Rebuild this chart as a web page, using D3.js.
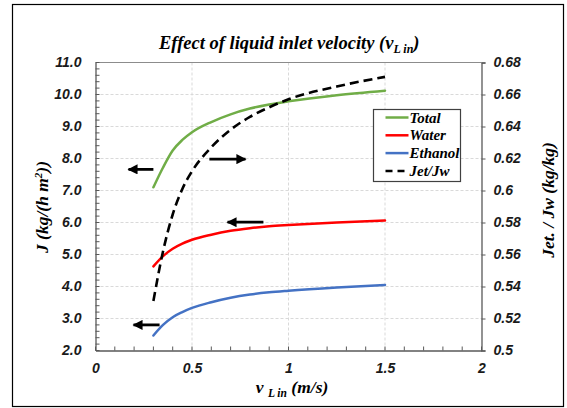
<!DOCTYPE html>
<html>
<head>
<meta charset="utf-8">
<script src="https://cdn.jsdelivr.net/npm/d3@7/dist/d3.min.js"></script>
<style>
  html, body { margin: 0; padding: 0; background: #fff; }
  svg { display: block; }
  .serif { font-family: "Liberation Serif", "Times New Roman", serif; font-weight: bold; font-style: italic; }
  .sans { font-family: "Liberation Sans", Arial, sans-serif; font-weight: bold; font-style: italic; }
</style>
</head>
<body>
<svg id="chart" width="567" height="408"></svg>
<script>
// Liquid inlet velocity (m/s)
const velocity = [0.3, 0.35, 0.4, 0.45, 0.5, 0.6, 0.7, 0.8, 0.9, 1.0, 1.25, 1.5];
// Fluxes J, kg/(h m²) — left axis
const totalFlux   = [7.10, 7.72, 8.25, 8.58, 8.82, 9.14, 9.38, 9.56, 9.69, 9.79, 9.98, 10.12];
const waterFlux   = [4.63, 4.95, 5.18, 5.34, 5.46, 5.62, 5.74, 5.82, 5.88, 5.92, 6.00, 6.06];
const ethanolFlux = [2.47, 2.80, 3.04, 3.20, 3.33, 3.51, 3.65, 3.75, 3.82, 3.87, 3.97, 4.05];
// Jet/Jw ratio, kg/kg — right axis
const ratio       = [0.531, 0.562, 0.585, 0.601, 0.612, 0.627, 0.638, 0.646, 0.652, 0.657, 0.665, 0.671];

const xTicks = [0, 0.5, 1, 1.5, 2];
const xTickLabels = ["0", "0.5", "1", "1.5", "2"];
const yLeftTicks = [2, 3, 4, 5, 6, 7, 8, 9, 10, 11];
const yRightTicks = [0.5, 0.52, 0.54, 0.56, 0.58, 0.6, 0.62, 0.64, 0.66, 0.68];

const seriesNames = ["Total", "Water", "Ethanol", "Jet/Jw"];
const seriesColors = ["#70ad47", "#ff0000", "#4472c4", "#000000"];

// Arrows pointing each curve to its axis: [x from, x to, y] in data units of the given axis
const arrowFrom = [0.30, 0.59, 0.87, 0.332];
const arrowTo   = [0.171, 0.777, 0.684, 0.197];
const arrowY    = [7.66, 0.6196, 6.01, 2.80];
const arrowAxis = ["left", "right", "left", "left"];

const svg = d3.select("#chart");

// outer frame
svg.append("rect").attr("x", 12.5).attr("y", 4.5).attr("width", 551).attr("height", 402)
  .attr("fill", "#fff").attr("stroke", "#000").attr("stroke-width", 1.2);

const x = d3.scaleLinear().domain([0, 2]).range([95.5, 481.5]);
const yL = d3.scaleLinear().domain([2, 11]).range([350.5, 62.5]);
const yR = d3.scaleLinear().domain([0.5, 0.68]).range([350.5, 62.5]);

// gridlines
const grid = svg.append("g").attr("stroke", "#d9d9d9").attr("stroke-width", 1).attr("stroke-dasharray", "3,2");
grid.selectAll(".gh").data(yLeftTicks.slice(1, -1)).join("line")
  .attr("x1", x(0)).attr("x2", x(2)).attr("y1", d => yL(d)).attr("y2", d => yL(d));
grid.selectAll(".gv").data(xTicks.slice(1, -1)).join("line")
  .attr("y1", yL(2)).attr("y2", yL(11)).attr("x1", d => x(d)).attr("x2", d => x(d));

const axisColor = "#595959";

// top border of plot area
svg.append("line").attr("x1", x(0)).attr("x2", x(2)).attr("y1", yL(11)).attr("y2", yL(11))
  .attr("stroke", "#8c8c8c").attr("stroke-width", 1);

// left axis with inward ticks, minor every 0.2
const gL = svg.append("g").attr("transform", `translate(${x(0)},0)`);
gL.call(d3.axisLeft(yL).tickValues(yLeftTicks).tickSize(0).tickFormat(d3.format(".1f")).tickPadding(14));
gL.selectAll(".minor").data(d3.range(2, 11.001, 0.2)).join("line").attr("class", "minor")
  .attr("x1", 0).attr("x2", 4).attr("y1", d => yL(d)).attr("y2", d => yL(d))
  .attr("stroke", axisColor);

// right axis with outward ticks
const gR = svg.append("g").attr("transform", `translate(${x(2)},0)`);
gR.call(d3.axisRight(yR).tickValues(yRightTicks).tickSize(4).tickPadding(8)
  .tickFormat(d => d === 0.5 ? "0.5" : d === 0.6 ? "0.6" : d3.format(".2f")(d)));

// bottom axis with inward ticks every 0.1
const gB = svg.append("g").attr("transform", `translate(0,${yL(2)})`);
gB.call(d3.axisBottom(x).tickValues(xTicks).tickSize(0).tickPadding(13)
  .tickFormat((d, i) => xTickLabels[i]));
gB.selectAll(".minor").data(d3.range(0, 2.001, 0.1)).join("line").attr("class", "minor")
  .attr("x1", d => x(d)).attr("x2", d => x(d)).attr("y1", 0).attr("y2", -4)
  .attr("stroke", axisColor);

[gL, gR, gB].forEach(g => {
  g.select(".domain").attr("stroke", axisColor).attr("stroke-width", 1.3);
  g.selectAll(".tick line").attr("stroke", axisColor);
  g.selectAll(".tick text").attr("class", "sans").attr("font-size", 14).attr("fill", "#1a1a1a");
});

// series lines
const pts = vals => velocity.map((v, i) => [v, vals[i]]);
const lineL = d3.line().x(d => x(d[0])).y(d => yL(d[1])).curve(d3.curveMonotoneX);
const lineR = d3.line().x(d => x(d[0])).y(d => yR(d[1])).curve(d3.curveMonotoneX);

[totalFlux, waterFlux, ethanolFlux].forEach((vals, i) => {
  svg.append("path").attr("d", lineL(pts(vals))).attr("fill", "none")
    .attr("stroke", seriesColors[i]).attr("stroke-width", 2.5).attr("stroke-linecap", "round");
});
svg.append("path").attr("d", lineR(pts(ratio))).attr("fill", "none")
  .attr("stroke", seriesColors[3]).attr("stroke-width", 2.6).attr("stroke-dasharray", "9,5");

// arrows
svg.append("defs").append("marker").attr("id", "head")
  .attr("viewBox", "0 0 10 10").attr("refX", 9).attr("refY", 5)
  .attr("markerWidth", 4.2).attr("markerHeight", 3.6).attr("orient", "auto")
  .attr("markerUnits", "strokeWidth")
  .append("path").attr("d", "M0,0 L10,5 L0,10 Z").attr("fill", "#000");
arrowFrom.forEach((f, i) => {
  const ys = arrowAxis[i] === "left" ? yL : yR;
  svg.append("line").attr("x1", x(f)).attr("x2", x(arrowTo[i]))
    .attr("y1", ys(arrowY[i])).attr("y2", ys(arrowY[i]))
    .attr("stroke", "#000").attr("stroke-width", 2.8).attr("marker-end", "url(#head)");
});

// legend
const lg = svg.append("g").attr("transform", "translate(373.5,109.5)");
lg.append("rect").attr("width", 87).attr("height", 72).attr("fill", "#fff")
  .attr("stroke", "#404040").attr("stroke-width", 1.2);
seriesNames.forEach((name, i) => {
  const yy = 8 + i * 17.8;
  lg.append("line").attr("x1", 12).attr("x2", 35).attr("y1", yy).attr("y2", yy)
    .attr("stroke", seriesColors[i]).attr("stroke-width", 2.5)
    .attr("stroke-dasharray", i === 3 ? "7,5" : null);
  lg.append("text").attr("class", "serif").attr("x", 36).attr("y", yy + 5)
    .attr("font-size", 15).text(name);
});

// chart title
const title = svg.append("text").attr("class", "serif").attr("x", 159).attr("y", 49)
  .attr("font-size", 18.5);
title.append("tspan").text("Effect of liquid inlet velocity (v");
title.append("tspan").attr("font-size", 12).attr("dy", 4).text("L in");
title.append("tspan").attr("dy", -4).text(")");

// x-axis title
const xt = svg.append("text").attr("class", "serif").attr("x", 292).attr("y", 393)
  .attr("text-anchor", "middle").attr("font-size", 17.5);
xt.append("tspan").text("v ");
xt.append("tspan").attr("font-size", 11.5).attr("dy", 4).text("L in");
xt.append("tspan").attr("dy", -4).text(" (m/s)");

// left y-axis title
const ylt = svg.append("text").attr("class", "serif")
  .attr("transform", "translate(48,207) rotate(-90)").attr("text-anchor", "middle").attr("font-size", 17.5);
ylt.append("tspan").text("J (kg/(h m");
ylt.append("tspan").attr("font-size", 11).attr("dy", -6).text("2");
ylt.append("tspan").attr("dy", 6).text("))");

// right y-axis title
svg.append("text").attr("class", "serif")
  .attr("transform", "translate(554,200) rotate(-90)").attr("text-anchor", "middle").attr("font-size", 17.5)
  .text("Jet. / Jw (kg/kg)");
</script>
</body>
</html>
